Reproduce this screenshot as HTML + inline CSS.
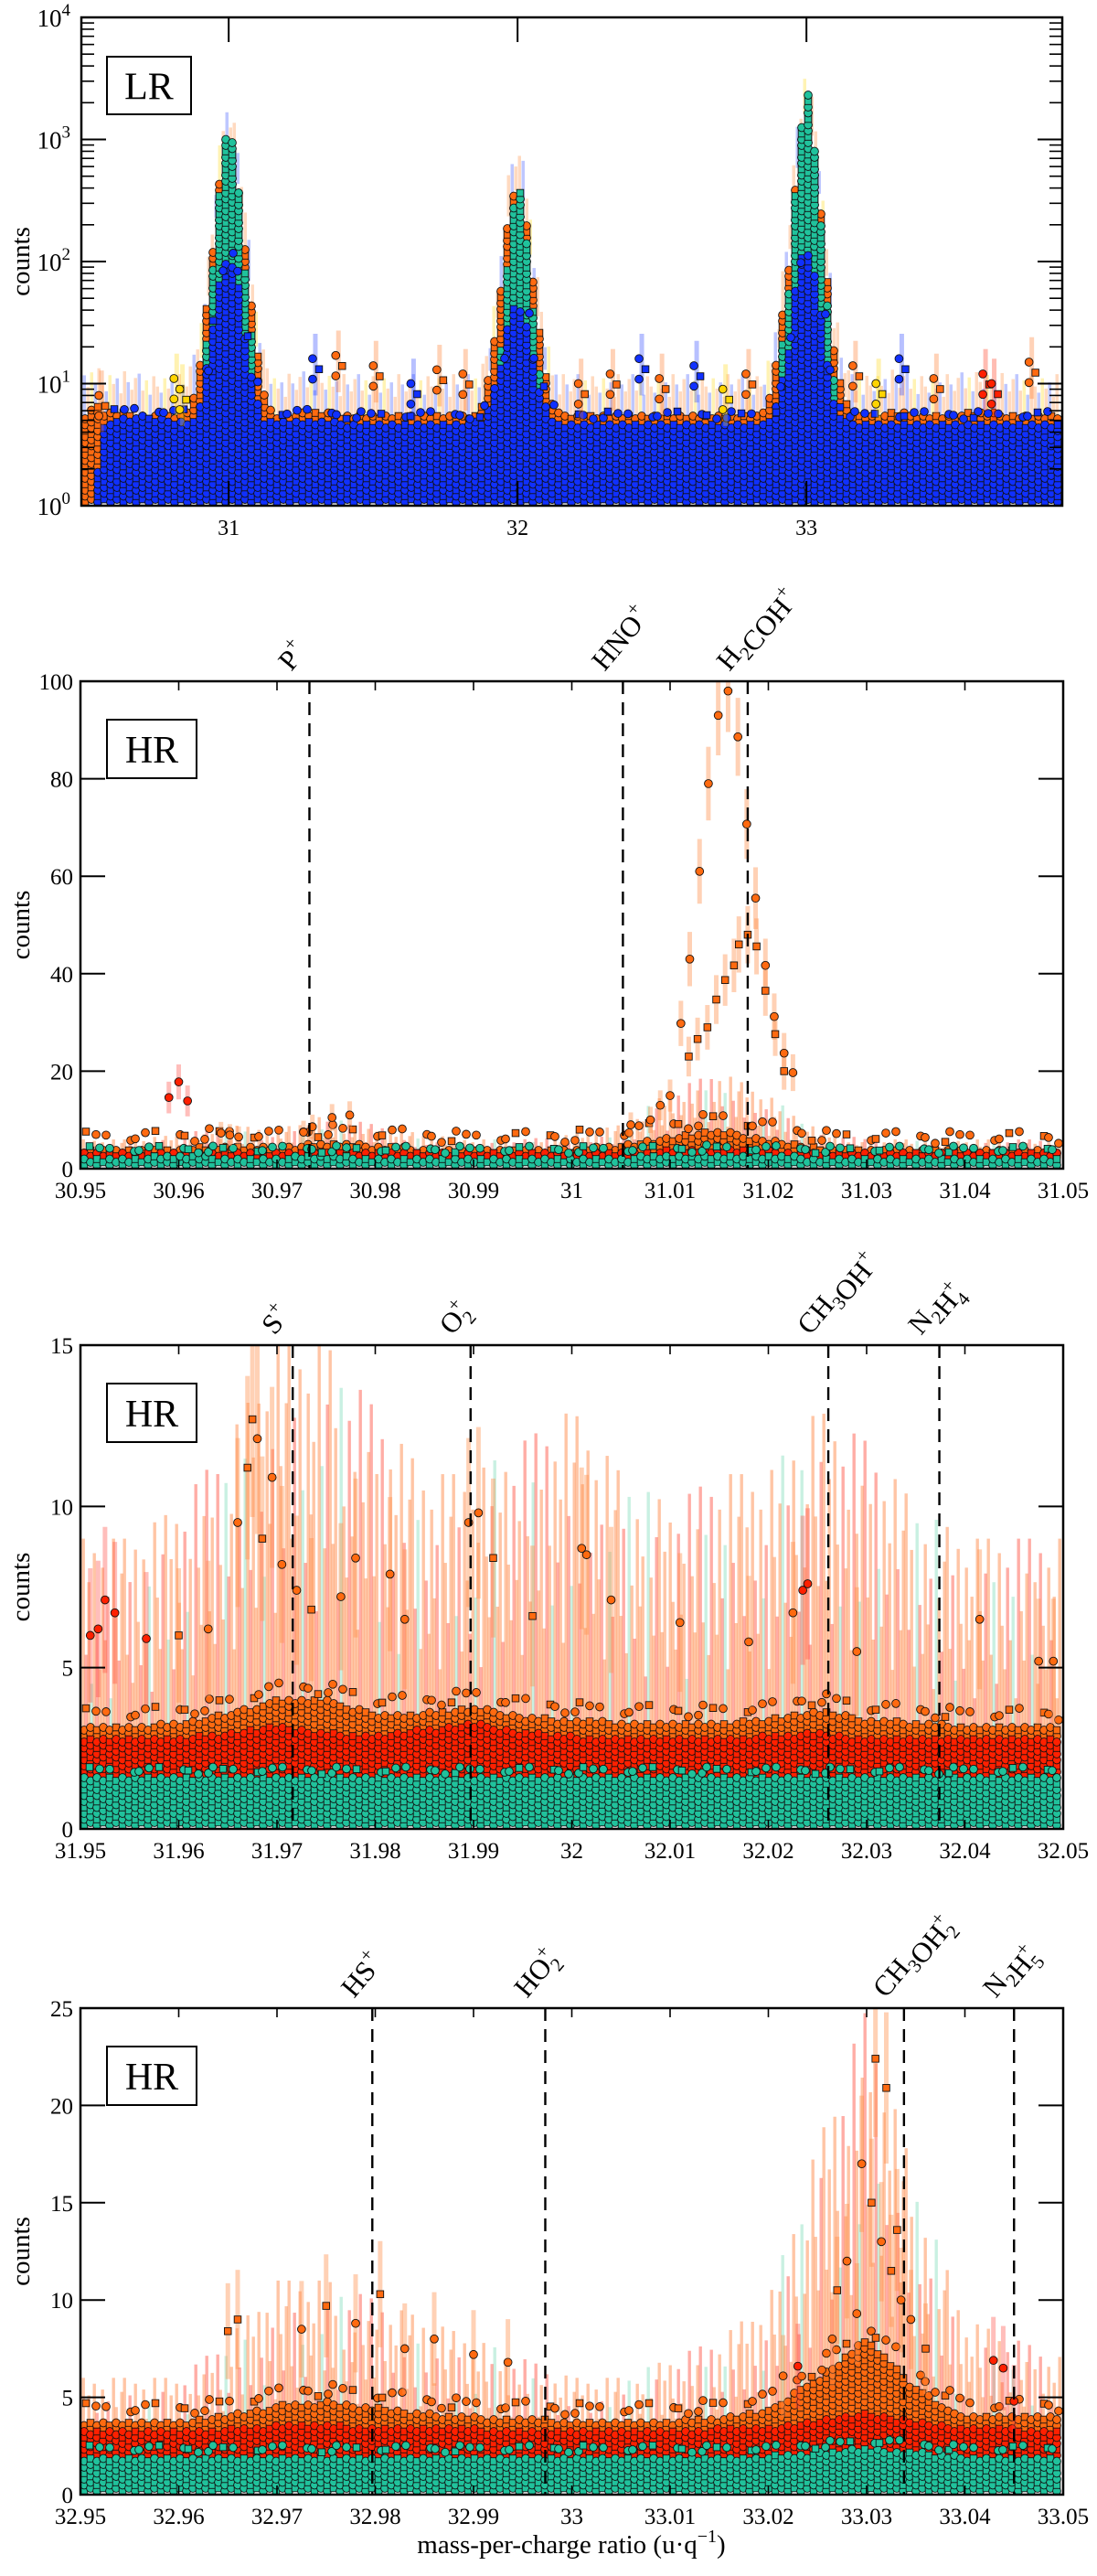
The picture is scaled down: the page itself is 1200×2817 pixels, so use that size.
<!DOCTYPE html>
<html><head><meta charset="utf-8"><title>Mass spectra LR/HR</title>
<style>
html,body{margin:0;padding:0;background:#fff;}
svg{display:block;font-family:"Liberation Serif",serif;}
</style></head>
<body>
<svg id="fig" width="1200" height="2817" viewBox="0 0 1200 2817" xmlns="http://www.w3.org/2000/svg"></svg>
<script>
// ---------------- DATA ----------------
// Panel 1 (LR, log scale)
const base1Mz = [30.49,30.54,30.565,30.6,30.7,30.8,30.9,31.1,31.2,31.3,31.4,31.5,31.6,31.7,31.8,31.9,32.1,32.2,32.3,32.4,32.5,32.6,32.7,32.8,32.9,33.1,33.2,33.3,33.4,33.5,33.6,33.7,33.8,33.886];
const blueBase1 = [1,1,4.5,5,5.5,5,5,5,5,5,4.8,4.8,4.8,4.8,4.8,4.8,4.8,4.8,4.8,4.8,4.8,4.8,4.8,4.8,4.8,4.8,4.8,4.8,4.8,4.8,4.8,4.8,4.8,4.8];
const orangeBase1 = [5,7,5.5,6,5.5,5.5,5.5,5.5,5.5,6,5.5,5.5,5.5,5.5,5.5,5.5,5.5,5.5,5.5,5.5,5.5,5.5,5.5,5.5,5.5,5.5,5.5,6,5.5,5.5,6,5.5,5.5,5.5];
const peakCenters1 = [31.0,32.0,33.0];
const peakOff1 = [-0.16,-0.12,-0.09,-0.06,-0.04,-0.02,0,0.02,0.04,0.06,0.09,0.12,0.16];
const tealPk31 = [1,3,8,40,200,600,1500,700,250,50,10,3,1];
const tealPk32 = [1,2,5,15,60,200,500,250,80,20,6,2,1];
const tealPk33 = [1,3,10,60,300,1000,3000,1200,350,70,12,3,1];
const orangePk31 = [5,8,18,70,280,700,1000,600,300,90,22,9,5];
const orangePk32 = [5,7,14,45,160,350,400,300,130,45,14,7,5];
const orangePk33 = [5,9,22,90,380,900,2000,1000,420,100,22,9,5];
const bluePk31 = [4.8,5,8,20,50,90,110,90,50,20,8,5,4.8];
const bluePk32 = [4.8,5,7,12,25,40,45,40,25,12,7,5,4.8];
const bluePk33 = [4.8,5,8,20,60,110,120,100,55,20,8,5,4.8];
const spikeMz1 = [30.56,30.82,30.84,31.30,31.38,31.51,31.64,31.73,31.82,32.22,32.33,32.43,32.50,32.62,32.72,32.80,33.17,33.25,33.33,33.45,33.62,33.65,33.78];
const spikeVal1 = [8,11,9,16,17,14,10,13,12,10,12,16,11,14,9,12,14,10,16,11,12,10,15];
const spikeCol1 = ['o','y','y','b','o','o','b','o','o','o','o','b','o','b','y','o','o','y','b','o','r','r','o'];
const yTicks1 = [0,1,2,3,4];
const xTicks1 = [31,32,33];

// Panel 2 (HR, 30.95-31.05)
const bins2 = [30.95,30.955,30.96,30.965,30.97,30.975,30.98,30.985,30.99,30.995,31.0,31.005,31.01,31.015,31.02,31.025,31.03,31.035,31.04,31.045,31.05];
const teal2 = [2.5,2.5,2.6,2.5,2.5,2.6,2.5,2.5,2.5,2.5,2.5,2.5,2.6,2.8,2.6,2.5,2.5,2.5,2.5,2.5,2.5];
const red2 = [3.4,3.4,3.5,3.6,3.4,3.6,3.5,3.4,3.4,3.4,3.4,3.5,3.8,4.4,3.8,3.4,3.4,3.4,3.4,3.4,3.4];
const orange2 = [4,4,4.3,4.8,4.3,5.5,4.8,4.3,4,4,4.3,5,6.5,8,6,4.3,4,4,4,4,4];
const err2 = [6,6,7,9,8,11,9,7,6,6,7,9,16,20,15,8,6,6,6,6,6];
const dotMz2 = [30.9590,30.9600,30.9609,30.9643,30.9652,30.9661,30.9727,30.9736,30.9756,30.9774,
 31.0159,31.0149,31.0169,31.0139,31.0178,31.0130,31.0187,31.0120,31.0197,31.0206,31.0111,31.0216,31.0225,
 31.0170,31.0179,31.0165,31.0188,31.0156,31.0147,31.0197,31.0138,31.0207,31.0119,31.0128,31.0216,31.0100,31.0090,31.0080,31.0060];
const dotVal2 = [14.6,17.8,13.9,7.3,6.9,6.5,7.5,8.6,10.5,11,
 98,93,88.6,79,70.7,61,55.5,43,41.7,31.2,29.8,23.7,19.7,
 46,48,41.7,45.6,38.7,34.7,36.5,29,27.6,23,26.6,20,15,13,10,9];
const dotCol2 = ['r','r','r','o','o','o','o','o','o','o',
 'o','o','o','o','o','o','o','o','o','o','o','o','o',
 's','s','s','s','s','s','s','s','s','s','s','s','o','o','o','o'];
const yTicks2 = [0,20,40,60,80,100];
const xTicks2 = [30.95,30.96,30.97,30.98,30.99,31,31.01,31.02,31.03,31.04,31.05];
const xTickLbl2 = ['30.95','30.96','30.97','30.98','30.99','31','31.01','31.02','31.03','31.04','31.05'];
const lines2 = [30.9733,31.0052,31.0179];

// Panel 3 (HR, 31.95-32.05)
const bins3 = [31.95,31.955,31.96,31.965,31.97,31.975,31.98,31.985,31.99,31.995,32.0,32.005,32.01,32.015,32.02,32.025,32.03,32.035,32.04,32.045,32.05];
const teal3 = [1.6,1.6,1.6,1.6,1.6,1.6,1.6,1.6,1.6,1.6,1.6,1.6,1.6,1.6,1.6,1.6,1.6,1.6,1.6,1.6,1.6];
const red3 = [2.8,2.8,2.8,3.0,3.2,3.0,2.9,3.1,3.3,3.0,2.9,2.8,2.8,2.8,2.9,3.0,2.8,2.8,2.8,2.8,2.8];
const orange3 = [3.2,3.2,3.3,3.6,4.0,4.0,3.6,3.6,3.8,3.5,3.4,3.3,3.3,3.3,3.4,3.7,3.4,3.3,3.2,3.2,3.2];
const err3 = [9,9,10,12,15,15,13,11,11,12,13,11,10,11,11,13,12,10,9,9,9];
const dotMz3 = [31.9525,31.9535,31.9510,31.9518,31.9567,31.9675,31.9680,31.9670,31.9695,31.9660,31.9685,31.9705,31.9720,31.9735,31.9765,31.9780,31.9830,31.9895,31.9905,31.9920,32.0010,32.0015,32.0040,32.0110,32.0225,32.0235,32.0240,32.0415,32.0475,32.0490,31.9815,31.9600,31.9630,31.9960,32.0180,32.0290];
const dotVal3 = [7.1,6.7,6.0,6.2,5.9,12.7,12.1,11.2,10.9,9.5,9.0,8.2,7.4,6.8,7.2,8.4,6.5,9.5,9.8,8.4,8.7,8.5,7.1,6.4,6.7,7.4,7.6,6.5,5.2,5.2,7.9,6.0,6.2,6.6,5.8,5.5];
const dotCol3 = ['r','r','r','r','r','s','o','s','o','o','s','o','o','s','o','o','o','o','o','s','o','o','o','o','o','r','r','o','o','o','o','s','o','s','o','o'];
const yTicks3 = [0,5,10,15];
const xTicks3 = [31.95,31.96,31.97,31.98,31.99,32,32.01,32.02,32.03,32.04,32.05];
const xTickLbl3 = ['31.95','31.96','31.97','31.98','31.99','32','32.01','32.02','32.03','32.04','32.05'];
const lines3 = [31.9716,31.9897,32.0261,32.0374];

// Panel 4 (HR, 32.95-33.05)
const bins4 = [32.95,32.955,32.96,32.965,32.97,32.975,32.98,32.985,32.99,32.995,33.0,33.005,33.01,33.015,33.02,33.025,33.03,33.035,33.04,33.045,33.05];
const teal4 = [2,2,2,2,2,2,2,2,2,2,2,2,2,2,2,2.2,2.4,2.2,2,2,2];
const red4 = [3.3,3.3,3.3,3.4,3.6,3.6,3.5,3.4,3.4,3.3,3.3,3.3,3.3,3.4,3.5,3.8,4.2,3.8,3.4,3.4,3.3];
const orange4 = [3.8,3.8,3.8,4.1,4.6,4.8,4.5,4.2,4,3.9,3.8,3.8,3.8,4,4.4,6,8,5.5,4,4,4];
const err4 = [6,6,6,8,11,11,10,9,8,7,6,6,7,8,10,18,25,16,9,8,7];
const dotMz4 = [33.0309,33.0320,33.0331,33.0295,33.0305,33.0280,33.0315,33.0325,33.0335,33.0270,33.0290,33.0345,33.0265,33.0360,
 32.9650,32.9660,32.9725,32.9750,32.9780,32.9805,32.9830,32.9860,32.9900,32.9935,33.0429,33.0439,33.0450,33.0215,33.0230];
const dotVal4 = [22.4,20.9,13.6,17,15,12,13,11.5,10,10.5,9.3,9,8,7.5,
 8.4,9,8.5,9.7,8.8,10.3,7.5,8,7.2,6.8,6.9,6.5,4.8,6.1,6.6];
const dotCol4 = ['s','s','s','o','s','o','o','s','o','s','o','o','o','s',
 's','s','o','s','o','s','o','o','o','o','r','r','r','o','r'];
const yTicks4 = [0,5,10,15,20,25];
const xTicks4 = [32.95,32.96,32.97,32.98,32.99,33,33.01,33.02,33.03,33.04,33.05];
const xTickLbl4 = ['32.95','32.96','32.97','32.98','32.99','33','33.01','33.02','33.03','33.04','33.05'];
const lines4 = [32.9797,32.9973,33.0338,33.0450];

// ---------------- RENDER ----------------
const NS = 'http://www.w3.org/2000/svg';
const svg = document.getElementById('fig');
function mk(tag, attrs, parent){
  const e = document.createElementNS(NS, tag);
  for (const k in attrs) e.setAttribute(k, attrs[k]);
  (parent || svg).appendChild(e);
  return e;
}
function interp(xs, ys, m){
  if (m <= xs[0]) return ys[0];
  for (let i=1;i<xs.length;i++){
    if (m <= xs[i]){ const t=(m-xs[i-1])/(xs[i]-xs[i-1]); return ys[i-1]+t*(ys[i]-ys[i-1]); }
  }
  return ys[ys.length-1];
}
const COL = {o:'#ff6a10', s:'#ff6a10', y:'#ffd400', a:'#ffa000', b:'#1030ff', r:'#ff2000', t:'#20c29c'};
const pat = [1,0.6,0.85,0.5,0.95,0.7,0.55,0.9,0.65,0.8,0.45,1,0.75,0.58,0.88];

function marker(g, x, y, c, sq, name){
  let el;
  if (sq){
    el = mk('rect',{x:x-3.8,y:y-3.8,width:7.6,height:7.6,fill:c,stroke:'#111','stroke-width':0.9},g);
  } else {
    el = mk('circle',{cx:x,cy:y,r:4.4,fill:c,stroke:'#111','stroke-width':0.9},g);
  }
  
  
  return el;
}

function texture(g, L, R, B, topY, lowY, c, name){
  let col = 0;
  for (let x=L+4; x<R-2; x+=7, col++){
    const ty = topY(x), ly = lowY ? lowY(x) : B;
    let row = 0;
    for (let y=B-4-(col%2)*3; y>ty; y-=6.5, row++){
      if (y > ly + 6) continue;
      marker(g, x, y, c, ((col+row)%3)===0, name);
    }
  }
}
// sparse scatter of points above a layer top
function scatter(g, L, R, topY, spanPx, c, name){
  let col = 0;
  for (let x=L+6; x<R-4; x+=9, col++){
    const f = pat[(col*7)%pat.length];
    if (f < 0.6) continue;
    const y = topY(x) - spanPx*(f-0.4);
    marker(g, x + (col%3)*2, y, c, col%4===0, name);
  }
}

function axesBox(name, L,T,R,B){
  const r = mk('rect',{x:L,y:T,width:R-L,height:B-T,fill:'none',stroke:'#000','stroke-width':2.5});
  
  
}
function labelBox(txt, x, y, w, h, name){
  const g = mk('g',{});
  
  
  mk('rect',{x:x,y:y,width:w,height:h,fill:'#fff',stroke:'#000','stroke-width':2},g);
  const t = mk('text',{x:x+w/2,y:y+h/2+15,'text-anchor':'middle','font-size':42},g);
  t.textContent = txt;
}
function yTitle(cy){
  const t = mk('text',{x:0,y:0,transform:'translate(32,'+cy+') rotate(-90)','text-anchor':'middle','font-size':29});
  t.textContent = 'counts';
  
  
}

// ---- Panel 1 ----
(function(){
  const L=89,R=1162,T=19,B=553;
  const X = m => L + (m-30.49)*316;
  const Y = c => B - Math.log10(Math.max(c,1))*133.5;
  const M = x => 30.49 + (x-L)/316;
  const g = mk('g',{});
  
  
  const tealPks=[tealPk31,tealPk32,tealPk33], orPks=[orangePk31,orangePk32,orangePk33], bluPks=[bluePk31,bluePk32,bluePk33];
  function pkVal(arrs, m){
    let v = 0;
    peakCenters1.forEach((c,i)=>{
      const d = m-c;
      if (d>=peakOff1[0] && d<=peakOff1[peakOff1.length-1]) v = Math.max(v, interp(peakOff1, arrs[i], d));
    });
    return v;
  }
  const orangeTop = x => Y(Math.max(interp(base1Mz, orangeBase1, M(x)), pkVal(orPks, M(x))));
  const tealTop = x => Y(Math.max(1, pkVal(tealPks, M(x))));
  const blueTop = x => Y(Math.max(interp(base1Mz, blueBase1, M(x)), pkVal(bluPks, M(x))));
  let c=0;
  for (let x=L+3; x<R-2; x+=4, c++){
    const top = orangeTop(x);
    const h = 45*pat[c%pat.length];
    const e = mk('rect',{x:x-1.5,y:top-h,width:3.5,height:h,fill:(c%3===0?'rgba(40,70,255,0.3)':(c%5===2?'rgba(255,220,40,0.35)':'rgba(255,140,60,0.32)'))},g);
    
    
  }
  texture(g, L, L+24, B, x=>Y(5), null, COL.r, 'red-point');
  texture(g, L, R, B, orangeTop, null, COL.o, 'orange-point');
  texture(g, L, R, B, tealTop, null, COL.t, 'teal-point');
  texture(g, L, R, B, blueTop, null, COL.b, 'blue-point');
  scatter(g, L+30, R, blueTop, 20, COL.b, 'blue-point');
  spikeMz1.forEach((m,i)=>{
    const x = X(m), v = spikeVal1[i], c = COL[spikeCol1[i]];
    const eb = mk('rect',{x:x-2.5,y:Y(v*1.6),width:5,height:Y(v*0.5)-Y(v*1.6),fill:c,opacity:0.3},g);
    
    
    [1,0.82,0.68].forEach((f,j)=>{ marker(g, x+(j%2?4:-3), Y(v*f), c, j===1, 'spike-point'); });
  });
  axesBox('lr-axes', L,T,R,B);
  yTicks1.forEach(k=>{
    const y = Y(Math.pow(10,k));
    const t = mk('line',{x1:L,x2:L+27,y1:y,y2:y,stroke:'#000','stroke-width':2});
    
    
    mk('line',{x1:R,x2:R-27,y1:y,y2:y,stroke:'#000','stroke-width':2});
    if (k<4) for (let j=2;j<10;j++){
      const ym = Y(j*Math.pow(10,k));
      mk('line',{x1:L,x2:L+14,y1:ym,y2:ym,stroke:'#000','stroke-width':1.6});
      mk('line',{x1:R,x2:R-14,y1:ym,y2:ym,stroke:'#000','stroke-width':1.6});
    }
    const tx = mk('text',{x:L-12,y:y+10,'text-anchor':'end','font-size':27});
    
    
    tx.innerHTML = '10<tspan dy="-12" font-size="19">'+k+'</tspan>';
  });
  xTicks1.forEach(v=>{
    const x = X(v);
    mk('line',{x1:x,x2:x,y1:T,y2:T+27,stroke:'#000','stroke-width':2});
    mk('line',{x1:x,x2:x,y1:B,y2:B-27,stroke:'#000','stroke-width':2});
    const tx = mk('text',{x:x,y:B+32,'text-anchor':'middle','font-size':24});
    
    
    tx.textContent = String(v);
  });
  labelBox('LR',117,62,92,63,'lr-label-box');
  yTitle((T+B)/2);
})();

// ---- HR panels ----
function speciesLabel(x, T, html){
  const t = mk('text',{x:0,y:0,transform:'translate('+(x-20)+','+(T-10)+') rotate(-50)','font-size':31});
  
  
  t.innerHTML = html;
}
const SUB = n => '<tspan dy="8" font-size="21">'+n+'</tspan><tspan dy="-8"></tspan>';
const SUP = '<tspan dy="-14" font-size="21">+</tspan>';
const SUBSUP = n => '<tspan dy="8" font-size="21">'+n+'</tspan><tspan dx="-11" dy="-22" font-size="21">+</tspan>';

function drawHR(cfg){
  const {L,R,T,B,x0,ymax,bins,teal,red,orange,err,dMz,dVal,dCol,yT,xT,xL,lines,labels,name} = cfg;
  const X = m => L + (m-x0)*10750;
  const Y = c => B - Math.min(c,ymax*1.08)/ymax*(B-T);
  const M = x => x0 + (x-L)/10750;
  const g = mk('g',{});
  
  
  const oTop = x => Y(interp(bins, orange, M(x)));
  const rTop = x => Y(interp(bins, red, M(x)));
  const tTop = x => Y(interp(bins, teal, M(x)));
  let c=0;
  for (let x=L+3; x<R-2; x+=3, c++){
    const ev = interp(bins, err, M(x))*pat[c%pat.length];
    const y1 = Math.max(T, Y(ev));
    const e = mk('rect',{x:x-1.5,y:y1,width:3.4,height:Math.max(0,oTop(x)-y1+10),fill:(c%4===1?'rgba(255,40,20,0.38)':(c%7===3?'rgba(60,200,150,0.28)':'rgba(255,110,30,0.4)'))},g);
    
    
  }
  texture(g, L, R, B, oTop, rTop, COL.o, 'orange-point');
  texture(g, L, R, B, rTop, tTop, COL.r, 'red-point');
  texture(g, L, R, B, tTop, null, COL.t, 'teal-point');
  scatter(g, L, R, oTop, (B-T)*0.06, COL.o, 'orange-point');
  scatter(g, L+4, R, tTop, (B-T)*0.035, COL.t, 'teal-point');
  dMz.forEach((m,i)=>{
    const v = dVal[i], x = X(m), ecol = dCol[i]==='r'?'rgba(255,70,60,0.35)':'rgba(255,140,70,0.4)';
    const e = Math.sqrt(v)*0.85;
    const y1 = Math.max(T, Y(v+e)), y2 = Y(Math.max(0,v-e));
    const eb = mk('rect',{x:x-2.5,y:y1,width:5,height:y2-y1,fill:ecol},g);
    
    
  });
  dMz.forEach((m,i)=>{
    if (dVal[i] > ymax*1.02) return;
    marker(g, X(m), Y(dVal[i]), COL[dCol[i]], dCol[i]==='s', 'peak-point');
  });
  lines.forEach((m,i)=>{
    const l = mk('line',{x1:X(m),x2:X(m),y1:T,y2:B,stroke:'#000','stroke-width':2.4,'stroke-dasharray':'14,9'});
    
    
    speciesLabel(X(m), T, labels[i]);
  });
  axesBox(name+'-axes', L,T,R,B);
  yT.forEach(v=>{
    const y = Y(v);
    const t = mk('line',{x1:L,x2:L+27,y1:y,y2:y,stroke:'#000','stroke-width':2});
    
    
    mk('line',{x1:R,x2:R-27,y1:y,y2:y,stroke:'#000','stroke-width':2});
    const tx = mk('text',{x:L-8,y:y+9,'text-anchor':'end','font-size':25});
    
    
    tx.textContent = String(v);
  });
  xT.forEach((v,i)=>{
    const x = X(v);
    mk('line',{x1:x,x2:x,y1:B,y2:B-10,stroke:'#000','stroke-width':1.6});
    mk('line',{x1:x,x2:x,y1:T,y2:T+10,stroke:'#000','stroke-width':1.6});
    const tx = mk('text',{x:x,y:B+32,'text-anchor':'middle','font-size':25});
    
    
    tx.textContent = xL[i];
  });
  labelBox('HR',117,T+42,98,64,name+'-label-box');
  yTitle((T+B)/2);
}

drawHR({L:88,R:1163,T:745,B:1278,x0:30.95,ymax:100,bins:bins2,teal:teal2,red:red2,orange:orange2,err:err2,
  dMz:dotMz2,dVal:dotVal2,dCol:dotCol2,yT:yTicks2,xT:xTicks2,xL:xTickLbl2,lines:lines2,name:'hr-panel-1',
  labels:['P'+SUP,'HNO'+SUP,'H'+SUB(2)+'COH'+SUP]});
drawHR({L:88,R:1163,T:1471,B:2000,x0:31.95,ymax:15,bins:bins3,teal:teal3,red:red3,orange:orange3,err:err3,
  dMz:dotMz3,dVal:dotVal3,dCol:dotCol3,yT:yTicks3,xT:xTicks3,xL:xTickLbl3,lines:lines3,name:'hr-panel-2',
  labels:['S'+SUP,'O'+SUBSUP(2),'CH'+SUB(3)+'OH'+SUP,'N'+SUB(2)+'H'+SUBSUP(4)]});
drawHR({L:88,R:1163,T:2196,B:2728,x0:32.95,ymax:25,bins:bins4,teal:teal4,red:red4,orange:orange4,err:err4,
  dMz:dotMz4,dVal:dotVal4,dCol:dotCol4,yT:yTicks4,xT:xTicks4,xL:xTickLbl4,lines:lines4,name:'hr-panel-3',
  labels:['HS'+SUP,'HO'+SUBSUP(2),'CH'+SUB(3)+'OH'+SUBSUP(2),'N'+SUB(2)+'H'+SUBSUP(5)]});

const xt = mk('text',{x:625,y:2792,'text-anchor':'middle','font-size':29});


xt.innerHTML = 'mass-per-charge ratio (u·q<tspan dy="-12" font-size="20">−1</tspan><tspan dy="12">)</tspan>';
</script>
</body></html>
